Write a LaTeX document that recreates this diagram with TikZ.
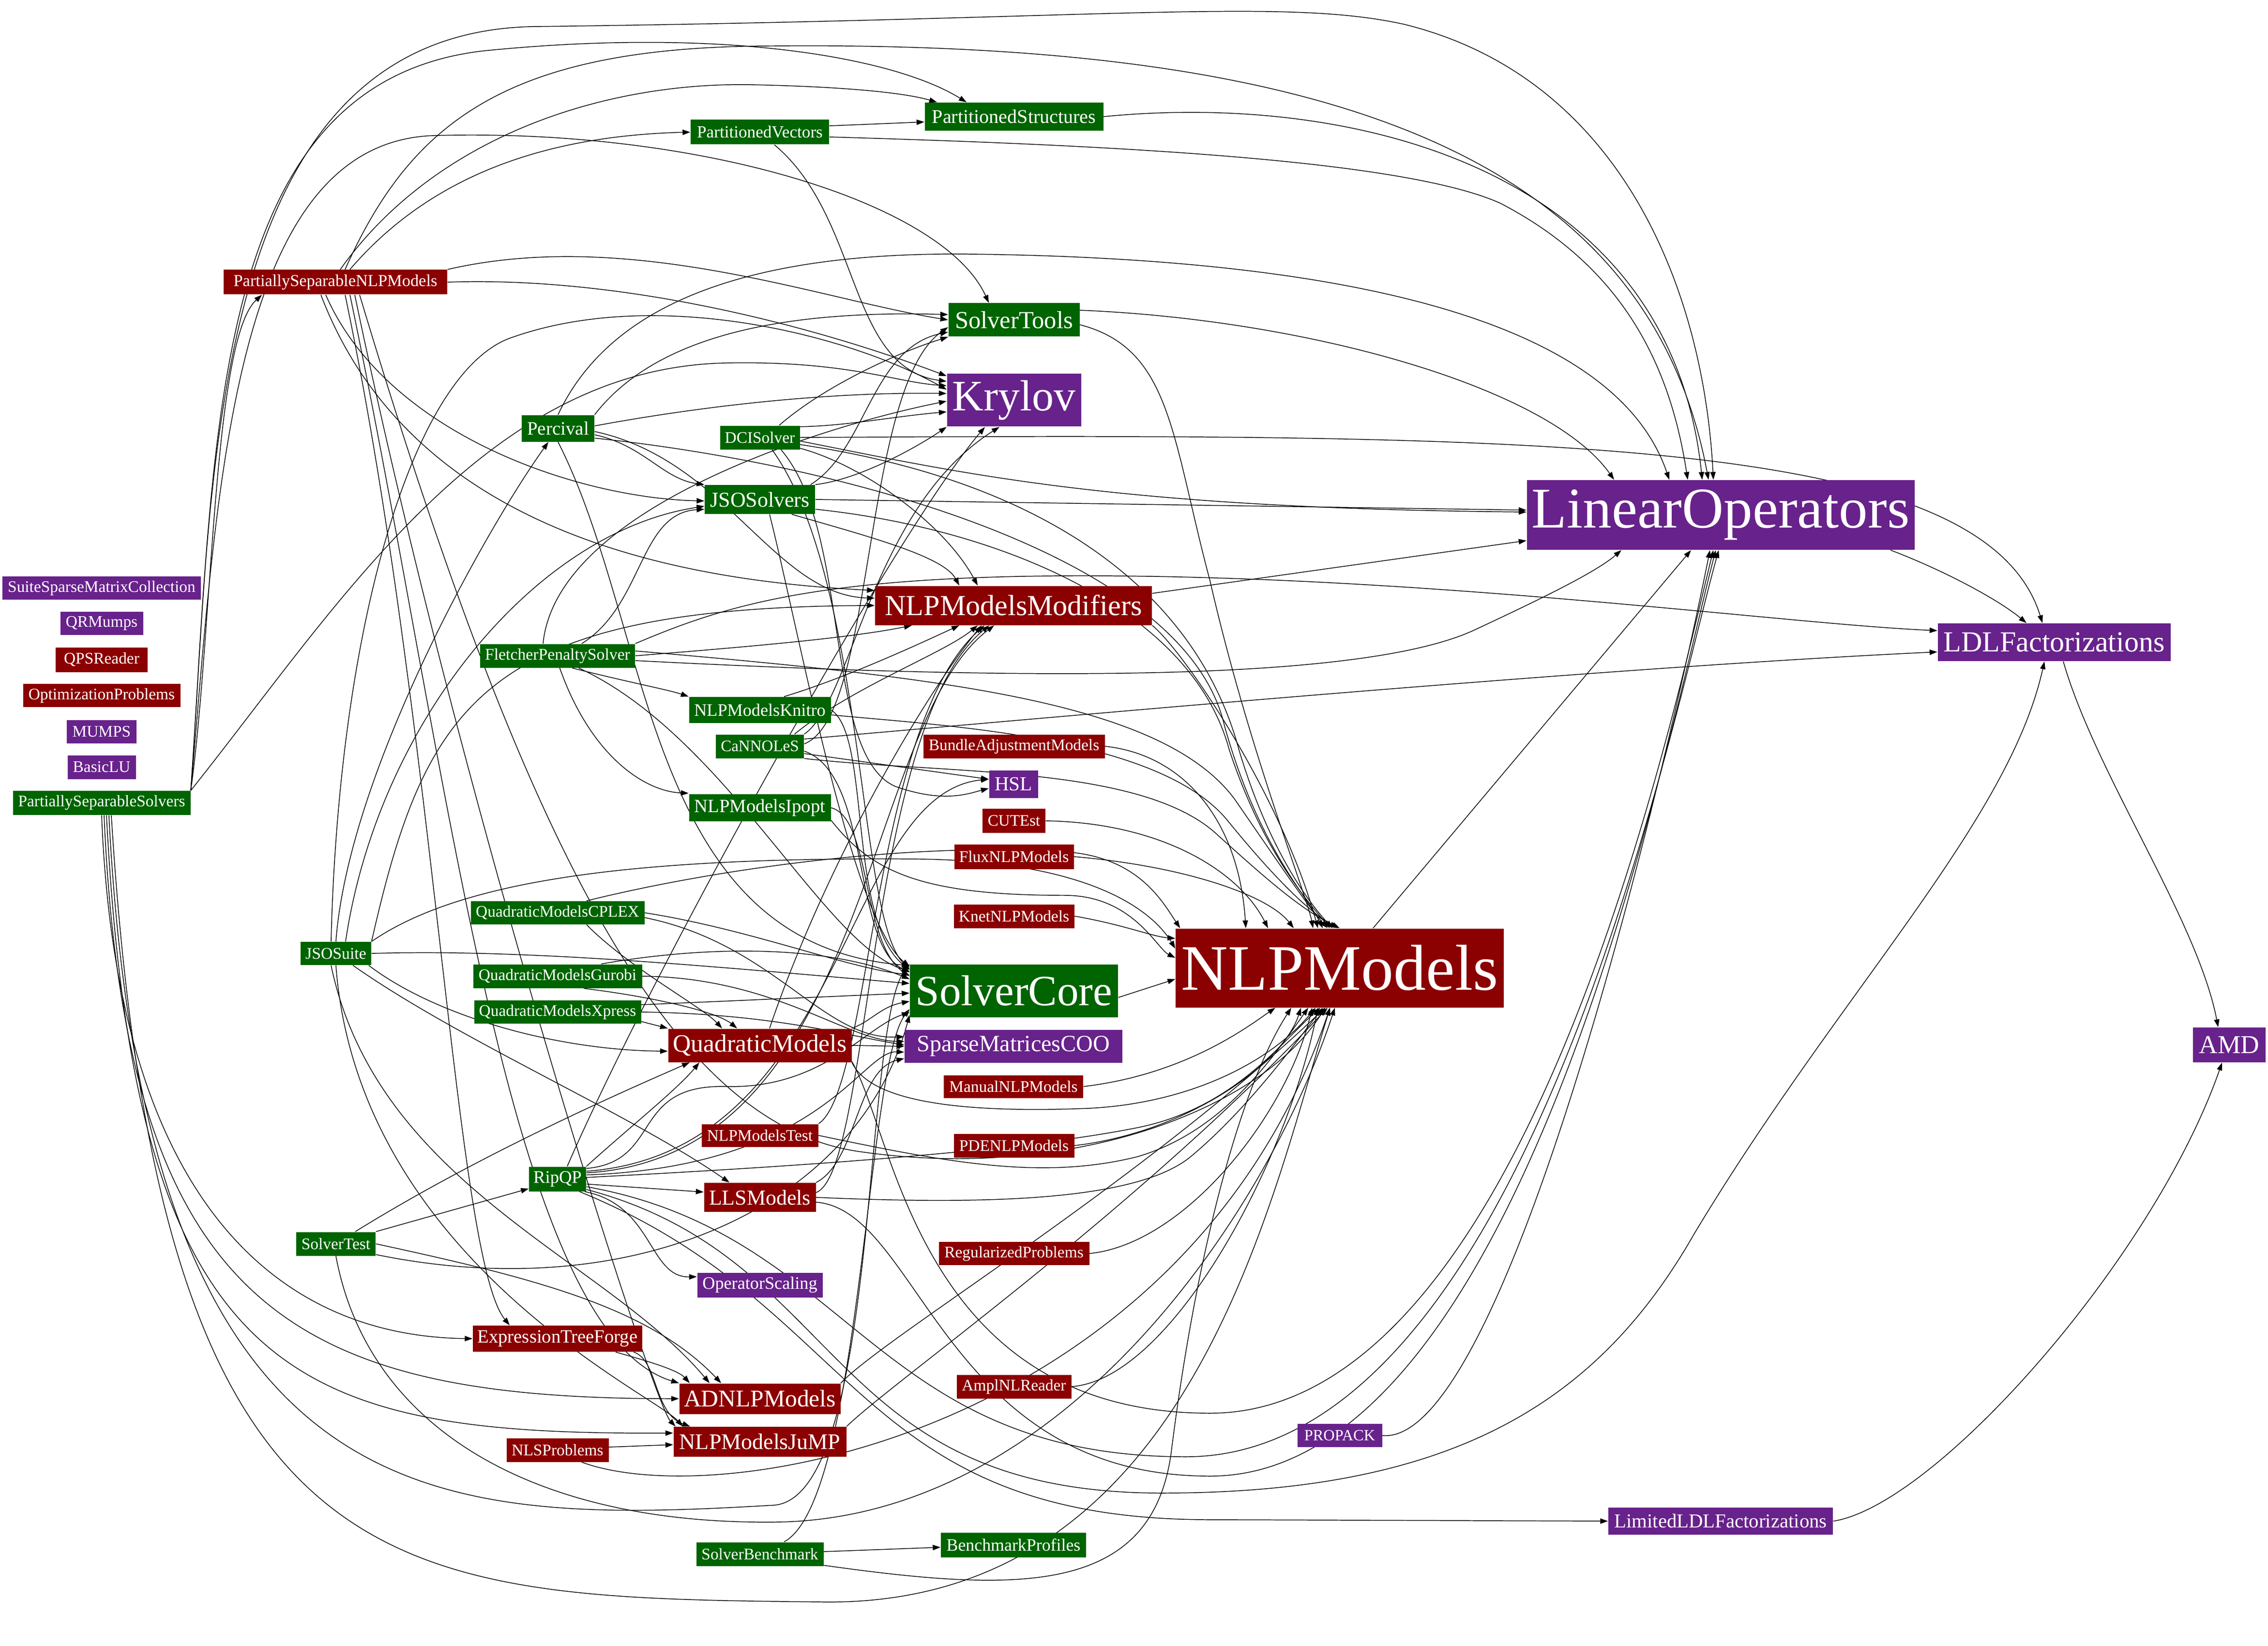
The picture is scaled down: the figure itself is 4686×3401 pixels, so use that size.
\documentclass[tikz,border=0pt]{standalone}
\usepackage{fontspec}
\setmainfont{Liberation Serif}
\usepackage{tikz}
\usetikzlibrary{arrows.meta}
\definecolor{solvergreen}{HTML}{006400}
\definecolor{modelred}{HTML}{8B0000}
\definecolor{linalgpurple}{HTML}{68228B}
\newcommand{\pkgsize}[1]{\fontsize{#1}{#1}\selectfont}
\pgfdeclarelayer{paper}
\pgfdeclarelayer{edges}
\pgfsetlayers{paper,edges,main}

\begin{document}
\begin{tikzpicture}[x=0.1mm, y=-0.1mm,
                    pkg/.style n args={3}{inner sep=0pt, text=white, minimum width=#1mm, minimum height=#2mm, font=\pkgsize{#3}},
                    solver/.style={fill=solvergreen},
                    model/.style={fill=modelred},
                    linalg/.style={fill=linalgpurple},
                    dep/.style={-{Triangle[length=1.6mm,width=1.1mm]}, line width=0.42pt}]
\begin{pgfonlayer}{paper}
\fill[white] (0,0) rectangle (4686,3401);
\end{pgfonlayer}
\useasboundingbox (0,0) rectangle (4686,3401);

\node[linalg, pkg={41.0}{4.8}{9.5}] (ssmc) at (210,1215) {SuiteSparseMatrixCollection};
\node[linalg, pkg={17.1}{4.8}{9.5}] (qrm) at (210,1288) {QRMumps};
\node[model, pkg={19.0}{5.1}{9.5}] (qps) at (210,1363) {QPSReader};
\node[model, pkg={32.5}{4.8}{9.5}] (optp) at (210,1437) {OptimizationProblems};
\node[linalg, pkg={14.4}{4.8}{9.5}] (mumps) at (210,1512) {MUMPS};
\node[linalg, pkg={14.1}{4.9}{9.5}] (blu) at (210,1585) {BasicLU};
\node[solver, pkg={36.7}{5.0}{9.5}] (pss) at (210,1659) {PartiallySeparableSolvers};

\node[model, pkg={46.2}{5.1}{9.8}] (psnlp) at (693,583) {PartiallySeparableNLPModels};
\node[solver, pkg={14.6}{4.8}{9.6}] (jsosuite) at (694,1970) {JSOSuite};
\node[solver, pkg={16.4}{4.9}{9.5}] (soltest) at (694,2570) {SolverTest};

\node[solver, pkg={15.0}{5.5}{11.1}] (perc) at (1153,885) {Percival};
\node[solver, pkg={32.0}{4.9}{9.6}] (fps) at (1152,1355) {FletcherPenaltySolver};
\node[solver, pkg={35.9}{4.8}{9.5}] (qmcplex) at (1152,1886) {QuadraticModelsCPLEX};
\node[solver, pkg={34.9}{4.9}{9.5}] (qmgurobi) at (1152,2017) {QuadraticModelsGurobi};
\node[solver, pkg={34.5}{4.8}{9.5}] (qmxpress) at (1152,2091) {QuadraticModelsXpress};
\node[solver, pkg={11.8}{5.1}{10.4}] (ripqp) at (1152,2436) {RipQP};
\node[model, pkg={35.0}{5.4}{11.0}] (etf) at (1152,2766) {ExpressionTreeForge};
\node[model, pkg={21.1}{4.9}{9.5}] (nlsp) at (1152,2996) {NLSProblems};

\node[solver, pkg={28.6}{5.1}{10.0}] (pv) at (1570,273) {PartitionedVectors};
\node[solver, pkg={16.5}{4.9}{9.5}] (dci) at (1570,904) {DCISolver};
\node[solver, pkg={22.8}{6.0}{12.5}] (jsos) at (1570,1032) {JSOSolvers};
\node[solver, pkg={29.3}{5.4}{10.3}] (knitro) at (1570,1467) {NLPModelsKnitro};
\node[solver, pkg={18.2}{4.9}{9.4}] (cannoles) at (1570,1542) {CaNNOLeS};
\node[solver, pkg={29.3}{5.6}{11.0}] (ipopt) at (1570,1669) {NLPModelsIpopt};
\node[model, pkg={37.9}{6.9}{14.7}] (qm) at (1570,2160) {QuadraticModels};
\node[model, pkg={24.1}{4.7}{9.5}] (nlptest) at (1570,2346) {NLPModelsTest};
\node[model, pkg={23.1}{6.0}{12.5}] (lls) at (1570,2474) {LLSModels};
\node[linalg, pkg={25.9}{5.1}{10.3}] (opscal) at (1570,2655) {OperatorScaling};
\node[model, pkg={33.3}{6.3}{14.1}] (adnlp) at (1570,2890) {ADNLPModels};
\node[model, pkg={35.7}{6.2}{13.1}] (jump) at (1570,2979) {NLPModelsJuMP};
\node[solver, pkg={26.3}{4.9}{9.5}] (solbench) at (1570,3211) {SolverBenchmark};

\node[solver, pkg={36.9}{5.8}{11.4}] (pstr) at (2095,241) {PartitionedStructures};
\node[solver, pkg={27.1}{6.9}{14.4}] (soltools) at (2095,661) {SolverTools};
\node[linalg, pkg={27.7}{10.9}{25.6}] (krylov) at (2095,827) {Krylov};
\node[model, pkg={57.2}{8.1}{17.1}] (nlpmm) at (2094,1251) {NLPModelsModifiers};
\node[model, pkg={37.5}{4.9}{9.5}] (bam) at (2095,1542) {BundleAdjustmentModels};
\node[linalg, pkg={10.1}{5.7}{11.7}] (hsl) at (2094,1620) {HSL};
\node[model, pkg={13.0}{5.0}{9.4}] (cutest) at (2095,1696) {CUTEst};
\node[model, pkg={24.7}{5.1}{9.6}] (flux) at (2095,1770) {FluxNLPModels};
\node[model, pkg={24.9}{4.9}{9.5}] (knet) at (2095,1893) {KnetNLPModels};
\node[solver, pkg={43.0}{10.9}{25.4}] (score) at (2095,2047) {SolverCore};
\node[linalg, pkg={45.0}{6.8}{13.7}] (smcoo) at (2094,2162) {SparseMatricesCOO};
\node[model, pkg={28.8}{4.7}{9.5}] (manual) at (2094,2245) {ManualNLPModels};
\node[model, pkg={24.9}{4.9}{9.5}] (pde) at (2095,2367) {PDENLPModels};
\node[model, pkg={31.1}{4.8}{9.5}] (regp) at (2095,2590) {RegularizedProblems};
\node[model, pkg={23.7}{4.9}{9.5}] (ampl) at (2095,2865) {AmplNLReader};
\node[solver, pkg={30.0}{5.1}{10.2}] (bprof) at (2094,3192) {BenchmarkProfiles};

\node[model, pkg={67.8}{16.3}{38.1}] (nlp) at (2768,2000) {NLPModels};
\node[linalg, pkg={17.5}{4.8}{9.2}] (propack) at (2768,2966) {PROPACK};
\node[linalg, pkg={80.1}{14.4}{33.9}] (lo) at (3555,1064) {LinearOperators};
\node[linalg, pkg={46.4}{5.6}{11.6}] (lldl) at (3555,3143) {LimitedLDLFactorizations};
\node[linalg, pkg={48.1}{7.8}{17.1}] (ldl) at (4244,1327) {LDLFactorizations};
\node[linalg, pkg={15.0}{7.2}{15.2}] (amd) at (4606,2159) {AMD};

\begin{pgfonlayer}{edges}
\draw[dep] (pss.north east) .. controls (440,1300) and (440,700) .. ([xshift=8mm]psnlp.south west);
\draw[dep] (pss.north east) .. controls (440,1000) and (420,70) .. (1100,55) .. controls (2300,40) and (2650,-5) .. (2900,50) .. controls (3350,160) and (3520,600) .. ([xshift=-1.5mm]lo.north);
\draw[dep] (pss.north east) .. controls (445,900) and (430,170) .. (1000,105) .. controls (1500,55) and (1850,120) .. ([xshift=-9.8mm]pstr.north);
\draw[dep] (pss.north east) .. controls (450,1000) and (480,290) .. (900,280) .. controls (1450,265) and (1950,420) .. ([xshift=-5.2mm]soltools.north);
\draw[dep] (pss.north east) .. controls (700,1250) and (1000,760) .. (1500,750) .. controls (1750,745) and (1850,790) .. ([yshift=3mm]krylov.west);
\draw[dep] (pss.south) .. controls (240,2450) and (550,2760) .. (etf.west);
\draw[dep] ([xshift=0.5mm]pss.south) .. controls (260,2700) and (600,2890) .. (adnlp.west);
\draw[dep] ([xshift=1mm]pss.south) .. controls (280,2850) and (600,2965) .. ([yshift=1.8mm]jump.west);
\draw[dep] ([xshift=1.5mm]pss.south) .. controls (300,3150) and (900,3150) .. (1600,3110) .. controls (1820,3090) and (1780,2120) .. ([yshift=5.5mm]score.west);
\draw[dep] ([xshift=2mm]pss.south) .. controls (330,3300) and (800,3300) .. (1700,3310) .. controls (2450,3320) and (2620,2500) .. ([xshift=-2mm]nlp.south);

\draw[dep] ([xshift=2mm]psnlp.north) .. controls (850,250) and (1050,95) .. (1600,95) .. controls (2700,85) and (3400,300) .. ([xshift=-2.5mm]lo.north);
\draw[dep] ([xshift=1mm]psnlp.north) .. controls (900,280) and (1250,170) .. (1550,175) .. controls (1780,180) and (1880,195) .. ([xshift=-15.9mm]pstr.north);
\draw[dep] ([xshift=3mm]psnlp.north) .. controls (900,350) and (1150,280) .. (pv.west);
\draw[dep] (psnlp.north east) .. controls (1300,470) and (1700,620) .. (soltools.west);
\draw[dep] (psnlp.east) .. controls (1300,570) and (1700,680) .. ([yshift=5mm]krylov.west);
\draw[dep] ([xshift=-2mm]psnlp.south) .. controls (800,900) and (1200,1030) .. ([yshift=-0.3mm]jsos.west);
\draw[dep] ([xshift=-3mm]psnlp.south) .. controls (850,1100) and (1400,1200) .. ([yshift=3.1mm]nlpmm.west);
\draw[dep] ([xshift=2mm]psnlp.south) .. controls (900,1500) and (940,2600) .. ([xshift=-9.9mm]etf.north);
\draw[dep] ([xshift=3mm]psnlp.south) .. controls (930,1600) and (1050,2750) .. (adnlp.north west);
\draw[dep] ([xshift=4mm]psnlp.south) .. controls (960,1700) and (1350,2900) .. ([xshift=0.5mm]jump.north west);
\draw[dep] ([xshift=5mm]psnlp.south) .. controls (1100,1800) and (1400,2330) .. (1780,2380) .. controls (2200,2440) and (2600,2300) .. ([xshift=-3mm]nlp.south);

\draw[dep] (jsosuite.north) .. controls (720,1600) and (1000,1100) .. ([xshift=-2mm]perc.south);
\draw[dep] ([xshift=-1mm]jsosuite.north) .. controls (700,1300) and (850,780) .. (1050,700) .. controls (1350,590) and (1750,690) .. ([yshift=2.2mm]krylov.west);
\draw[dep] ([xshift=2mm]jsosuite.north) .. controls (780,1500) and (1100,1100) .. ([yshift=-1.4mm]jsos.west);
\draw[dep] (jsosuite.north east) .. controls (880,1450) and (1000,1255) .. (nlpmm.west);
\draw[dep] (jsosuite.north east) .. controls (950,1820) and (1300,1770) .. (1900,1775) .. controls (2250,1780) and (2380,1880) .. ([yshift=4mm]nlp.west);
\draw[dep] (jsosuite.east) .. controls (1100,1960) and (1500,2000) .. ([yshift=1.5mm]score.west);
\draw[dep] (jsosuite.-20) .. controls (900,2100) and (1150,2170) .. ([yshift=-1.2mm]qm.west);
\draw[dep] (jsosuite.-35) .. controls (950,2150) and (1300,2300) .. ([xshift=-6.3mm]lls.north);
\draw[dep] ([xshift=-1mm]jsosuite.south) .. controls (780,2450) and (1250,2600) .. ([xshift=-10.4mm]adnlp.north);
\draw[dep] (jsosuite.south) .. controls (740,2600) and (1350,2880) .. ([xshift=2mm]jump.north west);

\draw[dep] (soltest.north east) -- ([yshift=-2mm]ripqp.west);
\draw[dep] ([xshift=4mm]soltest.north) .. controls (1000,2380) and (1300,2250) .. ([xshift=-14.5mm]qm.south);
\draw[dep] (soltest.east) .. controls (1100,2640) and (1340,2700) .. ([xshift=-8mm]adnlp.north);
\draw[dep] (soltest.-15) .. controls (1300,2700) and (1770,2500) .. ([yshift=-5mm]score.west);
\draw[dep] (soltest.south) .. controls (760,2950) and (1100,3150) .. (1600,3145) .. controls (2200,3140) and (2620,2500) .. ([xshift=-1mm]nlp.south);

\draw[dep] (perc.-10) .. controls (1330,920) and (1370,990) .. (jsos.north west);
\draw[dep] ([yshift=0.5mm]perc.east) .. controls (1500,830) and (1750,810) .. ([yshift=1.4mm]krylov.west);
\draw[dep] (perc.north east) .. controls (1350,700) and (1600,640) .. ([yshift=1.1mm]soltools.west);
\draw[dep] (perc.north) .. controls (1250,650) and (1500,520) .. (2000,525) .. controls (2900,535) and (3350,700) .. ([xshift=-10.6mm]lo.north);
\draw[dep] (perc.-5) .. controls (1500,950) and (1600,1230) .. ([yshift=1.5mm]nlpmm.west);
\draw[dep] (perc.south) .. controls (1350,1300) and (1330,1950) .. ([yshift=5.2mm]score.west);
\draw[dep] (perc.-15) .. controls (1750,960) and (2450,1150) .. (2530,1500) .. controls (2600,1750) and (2700,1850) .. ([xshift=-3.5mm]nlp.north);

\draw[dep] (fps.-40) .. controls (1300,1410) and (1380,1425) .. (knitro.north west);
\draw[dep] (fps.-80) .. controls (1220,1560) and (1330,1635) .. ([yshift=3mm]ipopt.west);
\draw[dep] ([xshift=5mm]fps.north) .. controls (1330,1250) and (1320,1060) .. (jsos.-170);
\draw[dep] (fps.east) .. controls (1500,1340) and (1750,1320) .. ([xshift=-21mm]nlpmm.south);
\draw[dep] ([yshift=-1mm]fps.east) .. controls (2000,1400) and (2800,1420) .. (3050,1300) .. controls (3200,1230) and (3300,1180) .. ([xshift=-20.5mm]lo.south);
\draw[dep] (fps.north east) .. controls (1500,1250) and (1700,1185) .. (2300,1190) .. controls (3000,1195) and (3700,1290) .. ([yshift=2.4mm]ldl.west);
\draw[dep] ([xshift=-3mm]fps.north) .. controls (1150,1050) and (1700,880) .. ([yshift=-0.2mm]krylov.west);
\draw[dep] (fps.-30) .. controls (1500,1520) and (1700,1950) .. ([yshift=4mm]score.west);
\draw[dep] ([yshift=1mm]fps.east) .. controls (1950,1400) and (2400,1450) .. (2550,1650) .. controls (2640,1780) and (2700,1870) .. ([xshift=-2.5mm]nlp.north);

\draw[dep] (dci.15) .. controls (1750,880) and (1850,860) .. ([yshift=-2.4mm]krylov.west);
\draw[dep] ([xshift=4mm]dci.north) .. controls (1700,800) and (1850,730) .. (soltools.south west);
\draw[dep] (dci.east) .. controls (3200,895) and (4100,900) .. ([xshift=-2.4mm]ldl.north);
\draw[dep] (dci.-30) .. controls (1760,1100) and (1700,1560) .. (1850,1625) .. controls (1950,1660) and (2000,1640) .. ([yshift=-0.9mm]hsl.west);
\draw[dep] (dci.-15) .. controls (1780,960) and (1950,1080) .. ([xshift=-7.4mm]nlpmm.north);
\draw[dep] (dci.-45) .. controls (1790,1200) and (1770,1900) .. ([yshift=4.5mm]score.west);
\draw[dep] (dci.-5) .. controls (2000,980) and (2300,1050) .. ([yshift=0.6mm]lo.west);
\draw[dep] (dci.-10) .. controls (2200,1000) and (2480,1250) .. (2560,1550) .. controls (2620,1750) and (2700,1860) .. ([xshift=-1.5mm]nlp.north);

\draw[dep] (jsos.north east) .. controls (1780,990) and (1900,920) .. (krylov.south west);
\draw[dep] ([xshift=-1mm]jsos.north east) .. controls (1790,930) and (1800,720) .. ([yshift=-2.5mm]soltools.west);
\draw[dep] (jsos.east) -- ([yshift=1mm]lo.west);
\draw[dep] (jsos.-25) .. controls (1800,1110) and (1950,1150) .. ([xshift=-11.2mm]nlpmm.north);
\draw[dep] ([xshift=2mm]jsos.south) .. controls (1650,1300) and (1760,1900) .. ([yshift=5mm]score.west);
\draw[dep] (jsos.-10) .. controls (2050,1090) and (2460,1250) .. (2540,1550) .. controls (2610,1760) and (2700,1860) .. ([xshift=-2mm]nlp.north);

\draw[dep] ([xshift=5mm]knitro.north) .. controls (1750,1400) and (1900,1330) .. ([xshift=-11.2mm]nlpmm.south);
\draw[dep] (knitro.east) .. controls (1800,1520) and (1750,1900) .. ([yshift=4.3mm]score.west);
\draw[dep] ([yshift=-1mm]knitro.east) .. controls (1950,1500) and (2400,1520) .. (2540,1700) .. controls (2630,1810) and (2700,1880) .. ([xshift=-0.5mm]nlp.north);

\draw[dep] ([yshift=-1.5mm]cannoles.east) -- ([yshift=1mm]hsl.west);
\draw[dep] ([yshift=1.5mm]cannoles.east) .. controls (2200,1480) and (3300,1380) .. ([yshift=-2mm]ldl.west);
\draw[dep] (cannoles.north east) .. controls (1760,1450) and (1800,1050) .. ([xshift=-3mm]krylov.south);
\draw[dep] ([yshift=0.5mm]cannoles.east) .. controls (1810,1480) and (1780,800) .. ([yshift=-1.5mm]soltools.west);
\draw[dep] ([xshift=-2mm]cannoles.north east) .. controls (1760,1420) and (1950,1350) .. ([xshift=-7.4mm]nlpmm.south);
\draw[dep] ([yshift=-1mm]cannoles.east) .. controls (1800,1600) and (1760,1950) .. ([yshift=3.8mm]score.west);
\draw[dep] (cannoles.south east) .. controls (1950,1600) and (2350,1580) .. (2510,1720) .. controls (2620,1820) and (2690,1880) .. (nlp.north);

\draw[dep] (ipopt.east) .. controls (1800,1690) and (1780,1950) .. ([yshift=3mm]score.west);
\draw[dep] (ipopt.-10) .. controls (1800,1800) and (1900,1850) .. (2200,1850) .. controls (2340,1850) and (2390,1960) .. ([yshift=2.1mm]nlp.west);

\draw[dep] ([xshift=6mm]qmcplex.south) .. controls (1300,2000) and (1450,2080) .. ([xshift=-7.8mm]qm.north);
\draw[dep] (qmcplex.east) .. controls (1550,1920) and (1750,2000) .. ([yshift=3.3mm]score.west);
\draw[dep] ([yshift=-1mm]qmcplex.east) .. controls (1600,1950) and (1700,2150) .. ([yshift=2mm]smcoo.west);
\draw[dep] ([xshift=6mm]qmcplex.north) .. controls (1500,1790) and (1900,1740) .. (2200,1760) .. controls (2350,1770) and (2400,1860) .. ([xshift=1mm]nlp.north west);

\draw[dep] (qmgurobi.-25) .. controls (1350,2060) and (1480,2090) .. ([xshift=-4.7mm]qm.north);
\draw[dep] ([xshift=9mm]qmgurobi.north) .. controls (1450,1955) and (1700,1950) .. ([yshift=2.4mm]score.west);
\draw[dep] (qmgurobi.east) .. controls (1600,2020) and (1750,2150) .. ([yshift=1mm]smcoo.west);

\draw[dep] ([yshift=0.5mm]qmxpress.south east) -- (qm.north west);
\draw[dep] ([yshift=1.5mm]qmxpress.east) -- ([yshift=-0.5mm]score.west);
\draw[dep] (qmxpress.east) .. controls (1600,2095) and (1750,2140) .. ([yshift=0.3mm]smcoo.west);

\draw[dep] (qm.east) -- (smcoo.west);
\draw[dep] ([xshift=2mm]qm.north) .. controls (1700,1800) and (1900,1450) .. ([xshift=-6.6mm]nlpmm.south);
\draw[dep] (qm.north east) .. controls (1800,2110) and (1820,2080) .. ([yshift=-2.2mm]score.west);
\draw[dep] (qm.-10) .. controls (1850,2350) and (1900,2920) .. (2500,2920) .. controls (3150,2920) and (3450,1500) .. ([xshift=-1.5mm]lo.south);
\draw[dep] (qm.south east) .. controls (1800,2280) and (2000,2300) .. (2250,2290) .. controls (2450,2280) and (2620,2200) .. ([xshift=-5mm]nlp.south);

\draw[dep] (nlptest.north east) .. controls (1800,2250) and (1800,1500) .. ([xshift=-6mm]nlpmm.south);
\draw[dep] (nlptest.east) .. controls (1950,2400) and (2150,2440) .. (2350,2390) .. controls (2520,2340) and (2620,2200) .. ([xshift=-6.5mm]nlp.south);

\draw[dep] (lls.north east) .. controls (1770,2400) and (1770,2210) .. ([yshift=-2.5mm]smcoo.west);
\draw[dep] ([yshift=1mm]lls.east) .. controls (1800,2420) and (1790,1500) .. ([xshift=-5mm]nlpmm.south);
\draw[dep] ([yshift=-1mm]lls.east) .. controls (1900,2500) and (1950,3050) .. (2500,3050) .. controls (3150,3050) and (3450,1500) .. ([xshift=-1mm]lo.south);
\draw[dep] (lls.east) .. controls (2050,2490) and (2350,2480) .. (2460,2390) .. controls (2580,2290) and (2680,2150) .. ([xshift=-3.5mm]nlp.south);

\draw[dep] (ripqp.north east) .. controls (1300,2330) and (1400,2250) .. ([xshift=-12.5mm]qm.south);
\draw[dep] ([xshift=2mm]ripqp.north) .. controls (1350,2000) and (1850,1100) .. ([xshift=-6mm]krylov.south);
\draw[dep] (ripqp.-10) -- ([yshift=1.1mm]lls.west);
\draw[dep] (ripqp.-25) .. controls (1350,2490) and (1340,2640) .. ([yshift=1.7mm]opscal.west);
\draw[dep] (ripqp.15) .. controls (1750,2380) and (1740,1640) .. ([yshift=1mm]hsl.west);
\draw[dep] (ripqp.-20) .. controls (1750,2600) and (1700,3085) .. (2400,3085) .. controls (3000,3085) and (3300,2900) .. (3500,2550) .. controls (3800,2050) and (4150,1700) .. ([xshift=-2mm]ldl.south);
\draw[dep] (ripqp.-30) .. controls (1780,2700) and (1760,3140) .. (2500,3140) -- (lldl.west);
\draw[dep] (ripqp.-15) .. controls (1760,2550) and (1800,3010) .. (2450,3010) .. controls (3150,3010) and (3450,1500) .. ([xshift=-0.4mm]lo.south);
\draw[dep] (ripqp.8) .. controls (1700,2410) and (1780,2170) .. ([yshift=-1.2mm]smcoo.west);
\draw[dep] (ripqp.20) .. controls (1370,2400) and (1300,2240) .. (1500,2245) .. controls (1700,2250) and (1790,2120) .. ([yshift=-4.5mm]score.west);
\draw[dep] (ripqp.12) .. controls (1800,2390) and (1780,1500) .. ([xshift=-4mm]nlpmm.south);
\draw[dep] (ripqp.3) .. controls (1650,2410) and (2100,2380) .. (2350,2330) .. controls (2550,2290) and (2650,2150) .. ([xshift=-4mm]nlp.south);

\draw[dep] ([xshift=12mm]etf.south) .. controls (1330,2810) and (1400,2830) .. ([xshift=-14.5mm]adnlp.north);
\draw[dep] (etf.-10) .. controls (1360,2810) and (1350,2920) .. ([xshift=3.5mm]jump.north west);
\draw[dep] (adnlp.north east) .. controls (1830,2760) and (2350,2450) .. ([xshift=-3mm]nlp.south);
\draw[dep] (jump.north east) .. controls (1850,2850) and (2350,2500) .. ([xshift=-2.5mm]nlp.south);
\draw[dep] ([yshift=0.6mm]nlsp.east) -- ([yshift=-0.6mm]jump.west);
\draw[dep] ([xshift=5mm]nlsp.south) .. controls (1500,3130) and (2450,2950) .. ([xshift=-2mm]nlp.south);
\draw[dep] ([yshift=0.5mm]solbench.east) -- ([yshift=-0.5mm]bprof.west);
\draw[dep] ([xshift=5mm]solbench.north) .. controls (1780,3100) and (1790,2200) .. ([yshift=-3.8mm]score.west);
\draw[dep] (solbench.-10) .. controls (2100,3290) and (2380,3300) .. (2420,3000) .. controls (2470,2600) and (2560,2250) .. ([xshift=-10mm]nlp.south);

\draw[dep] ([yshift=1.3mm]pv.east) -- ([yshift=-1.1mm]pstr.west);
\draw[dep] ([yshift=-1mm]pv.east) .. controls (2300,300) and (2900,330) .. (3100,420) .. controls (3350,550) and (3450,750) .. ([xshift=-6.8mm]lo.north);
\draw[dep] ([xshift=3mm]pv.south) .. controls (1780,450) and (1750,760) .. ([yshift=3.9mm]krylov.west);
\draw[dep] (pstr.east) .. controls (2800,190) and (3450,350) .. ([xshift=-3.8mm]lo.north);
\draw[dep] ([yshift=2mm]soltools.east) .. controls (2700,660) and (3200,800) .. ([xshift=-22mm]lo.north);
\draw[dep] ([yshift=-1mm]soltools.east) .. controls (2420,720) and (2420,900) .. (2500,1200) .. controls (2580,1550) and (2700,1850) .. ([xshift=-5.5mm]nlp.north);
\draw[dep] ([yshift=-1.4mm]score.east) -- ([yshift=-2.3mm]nlp.west);
\draw[dep] ([yshift=2.5mm]nlpmm.east) -- ([yshift=-5.3mm]lo.west);
\draw[dep] (nlpmm.south east) .. controls (2450,1350) and (2650,1650) .. ([xshift=-4.5mm]nlp.north);

\draw[dep] (bam.east) .. controls (2450,1560) and (2560,1700) .. ([xshift=-19.4mm]nlp.north);
\draw[dep] (cutest.east) .. controls (2400,1700) and (2560,1800) .. ([xshift=-14.8mm]nlp.north);
\draw[dep] (flux.east) .. controls (2450,1790) and (2620,1850) .. ([xshift=-9.5mm]nlp.north);
\draw[dep] (knet.east) .. controls (2320,1910) and (2380,1935) .. ([yshift=6.1mm]nlp.west);
\draw[dep] (manual.east) .. controls (2450,2220) and (2580,2120) .. ([xshift=-13.3mm]nlp.south);
\draw[dep] (pde.east) .. controls (2450,2340) and (2650,2200) .. ([xshift=-8mm]nlp.south);
\draw[dep] (regp.east) .. controls (2450,2570) and (2660,2300) .. ([xshift=-5.7mm]nlp.south);
\draw[dep] (ampl.east) .. controls (2420,2850) and (2660,2400) .. ([xshift=-4.5mm]nlp.south);

\draw[dep] (nlp) -- (lo);
\draw[dep] (propack.east) .. controls (3100,2990) and (3420,1700) .. ([xshift=-2.2mm]lo.south);
\draw[dep] ([xshift=-5mm]lo.south east) .. controls (4020,1180) and (4130,1240) .. ([xshift=-5.7mm]ldl.north);
\draw[dep] ([xshift=1.9mm]ldl.south) .. controls (4330,1600) and (4540,1900) .. ([xshift=-2.3mm]amd.north);
\draw[dep] (lldl.east) .. controls (4000,3110) and (4450,2600) .. ([xshift=-1.5mm]amd.south);
\end{pgfonlayer}
\end{tikzpicture}
\end{document}
